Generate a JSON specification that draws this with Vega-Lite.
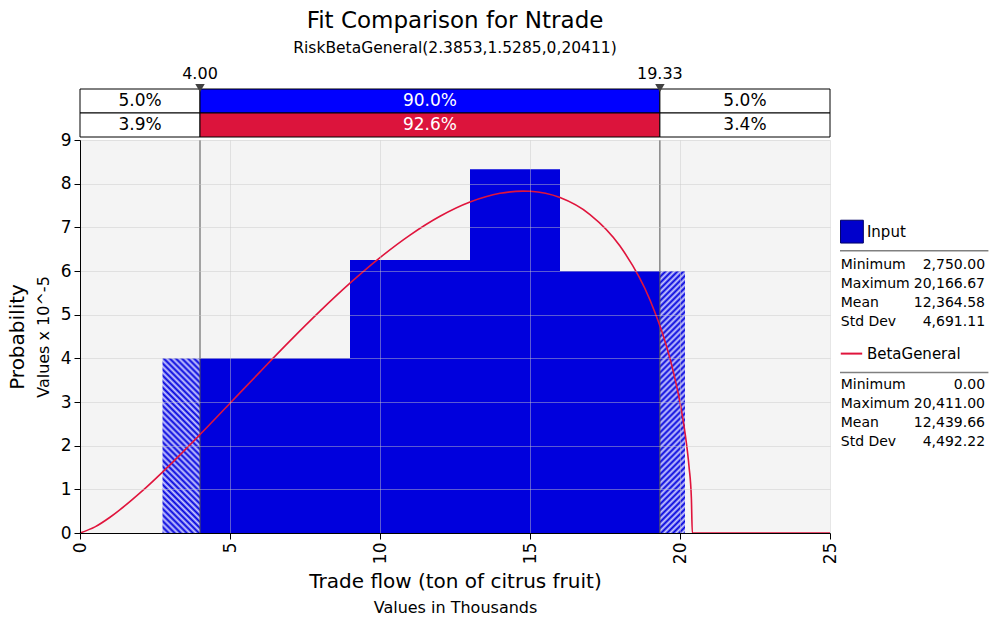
{
  "$schema": "https://vega.github.io/schema/vega-lite/v6.json",
  "padding": {"left": 7, "top": 9, "right": 0, "bottom": 0},
  "background": "white",
  "config": {
    "font": "DejaVu Sans",
    "view": {"stroke": null},
    "axis": {"labelColor": "black", "titleColor": "black", "domainColor": "black", "tickColor": "black", "titleFontWeight": "normal", "labelFont": "DejaVu Sans", "titleFont": "DejaVu Sans"},
    "title": {"font": "DejaVu Sans", "subtitleFont": "DejaVu Sans"}
  },
  "datasets": {
    "bands": [
      {"row": "Input", "lo": 0, "hi": 4, "mid": 2, "kind": "tail", "label": "5.0%"},
      {"row": "Input", "lo": 4, "hi": 19.33, "mid": 11.665, "kind": "input", "label": "90.0%"},
      {"row": "Input", "lo": 19.33, "hi": 25, "mid": 22.165, "kind": "tail", "label": "5.0%"},
      {"row": "Fit", "lo": 0, "hi": 4, "mid": 2, "kind": "tail", "label": "3.9%"},
      {"row": "Fit", "lo": 4, "hi": 19.33, "mid": 11.665, "kind": "fit", "label": "92.6%"},
      {"row": "Fit", "lo": 19.33, "hi": 25, "mid": 22.165, "kind": "tail", "label": "3.4%"}
    ],
    "markers": [{"v": 4, "label": "4.00"}, {"v": 19.33, "label": "19.33"}],
    "hist": [
      {"lo": 2.75, "hi": 4.0, "h": 4.0, "kind": "tailL"},
      {"lo": 4.0, "hi": 9.0, "h": 4.0, "kind": "body"},
      {"lo": 9.0, "hi": 13.0, "h": 6.25, "kind": "body"},
      {"lo": 13.0, "hi": 16.0, "h": 8.333, "kind": "body"},
      {"lo": 16.0, "hi": 19.33, "h": 6.0, "kind": "body"},
      {"lo": 19.33, "hi": 20.1667, "h": 6.0, "kind": "tailR"}
    ],
    "curve": [
      {"x": 0, "y": 0}, {"x": 0.5, "y": 0.1402}, {"x": 1, "y": 0.361}, {"x": 1.5, "y": 0.6245},
      {"x": 2, "y": 0.9167}, {"x": 3, "y": 1.5613}, {"x": 4, "y": 2.2543}, {"x": 5, "y": 2.9707},
      {"x": 6, "y": 3.6904}, {"x": 7, "y": 4.3988}, {"x": 8, "y": 5.0803}, {"x": 9, "y": 5.7205},
      {"x": 10, "y": 6.3065}, {"x": 11, "y": 6.8224}, {"x": 12, "y": 7.2529}, {"x": 13, "y": 7.579},
      {"x": 14, "y": 7.7793}, {"x": 14.77, "y": 7.83}, {"x": 15, "y": 7.8258}, {"x": 16, "y": 7.6817},
      {"x": 17, "y": 7.293}, {"x": 18, "y": 6.5716}, {"x": 19, "y": 5.3362}, {"x": 19.5, "y": 4.3898},
      {"x": 19.75, "y": 3.7707}, {"x": 20, "y": 2.9856}, {"x": 20.1, "y": 2.594}, {"x": 20.2, "y": 2.1283},
      {"x": 20.3, "y": 1.5259}, {"x": 20.38, "y": 0.7819}, {"x": 20.411, "y": 0}, {"x": 25, "y": 0}
    ],
    "stathead": [
      {"name": "Input", "line": 0, "sym": "box"},
      {"name": "BetaGeneral", "line": 6.42, "sym": "line"}
    ],
    "statrows": [
      {"stat": "Minimum", "value": "2,750.00", "line": 1.74},
      {"stat": "Maximum", "value": "20,166.67", "line": 2.74},
      {"stat": "Mean", "value": "12,364.58", "line": 3.74},
      {"stat": "Std Dev", "value": "4,691.11", "line": 4.74},
      {"stat": "Minimum", "value": "0.00", "line": 8.05},
      {"stat": "Maximum", "value": "20,411.00", "line": 9.05},
      {"stat": "Mean", "value": "12,439.66", "line": 10.05},
      {"stat": "Std Dev", "value": "4,492.22", "line": 11.05}
    ]
  },
  "hconcat": [
    {
      "spacing": 3,
      "bounds": "flush",
      "vconcat": [
        {
          "width": 750,
          "height": 72,
          "title": {"text": "Fit Comparison for Ntrade", "subtitle": "RiskBetaGeneral(2.3853,1.5285,0,20411)", "fontSize": 23, "fontWeight": "normal", "color": "black", "subtitleFontSize": 15.5, "subtitleColor": "black", "anchor": "middle", "frame": "group", "offset": 9, "subtitlePadding": 8},
          "layer": [
            {
              "data": {"name": "bands"},
              "mark": {"type": "rect", "stroke": "black", "strokeWidth": 1},
              "encoding": {
                "x": {"field": "lo", "type": "quantitative", "scale": {"domain": [0, 25], "nice": false}, "axis": null},
                "x2": {"field": "hi"},
                "y": {"field": "row", "type": "nominal", "scale": {"domain": ["marker", "Input", "Fit"], "paddingInner": 0, "paddingOuter": 0}, "axis": null},
                "fill": {"field": "kind", "type": "nominal", "scale": {"domain": ["tail", "input", "fit"], "range": ["#FFFFFF", "#0000FF", "#DC143C"]}, "legend": null}
              }
            },
            {
              "data": {"name": "bands"},
              "mark": {"type": "text", "fontSize": 17},
              "encoding": {
                "x": {"field": "mid", "type": "quantitative"},
                "y": {"field": "row", "type": "nominal"},
                "text": {"field": "label"},
                "color": {"field": "kind", "type": "nominal", "scale": {"domain": ["tail", "input", "fit"], "range": ["#000000", "#FFFFFF", "#FFFFFF"]}, "legend": null}
              }
            },
            {
              "data": {"name": "markers"},
              "mark": {"type": "point", "shape": "triangle-down", "filled": true, "size": 90, "color": "#404040", "opacity": 1, "yOffset": 11},
              "encoding": {
                "x": {"field": "v", "type": "quantitative"},
                "y": {"datum": "marker", "type": "nominal"}
              }
            },
            {
              "data": {"name": "markers"},
              "mark": {"type": "text", "fontSize": 16, "color": "black", "yOffset": -3},
              "encoding": {
                "x": {"field": "v", "type": "quantitative"},
                "y": {"datum": "marker", "type": "nominal"},
                "text": {"field": "label"}
              }
            }
          ]
        },
        {
          "width": 750,
          "height": 393,
          "view": {"fill": "#F4F4F4", "stroke": null},
          "layer": [
            {
              "data": {"name": "hist"},
              "transform": [{"filter": "datum.kind === 'body'"}],
              "mark": {"type": "rect", "fill": "#0000DD"},
              "encoding": {
                "x": {"field": "lo", "type": "quantitative", "scale": {"domain": [0, 25], "nice": false},
                  "axis": {"title": "Trade flow (ton of citrus fruit)", "titleFontSize": 20, "values": [0, 5, 10, 15, 20, 25], "labelAngle": -90, "labelFontSize": 17, "tickSize": 6, "grid": true, "gridColor": "#C8C8C8", "gridOpacity": 0.45, "zindex": 1, "titlePadding": 8, "labelPadding": 3}},
                "x2": {"field": "hi"},
                "y": {"field": "h", "type": "quantitative", "scale": {"domain": [0, 9], "nice": false},
                  "axis": {"title": "Values x 10^-5", "titleFontSize": 16, "values": [0, 1, 2, 3, 4, 5, 6, 7, 8, 9], "labelFontSize": 17, "tickSize": 6, "grid": true, "gridColor": "#C8C8C8", "gridOpacity": 0.45, "zindex": 1, "titlePadding": 9, "labelPadding": 3}},
                "y2": {"datum": 0}
              }
            },
            {
              "data": {"name": "hist"},
              "transform": [{"filter": "datum.kind === 'tailL'"}],
              "mark": {"type": "rect", "fill": {"gradient": "linear", "x1": 0, "y1": 1, "x2": 0.2493, "y2": -0.1612, "stops": [
                {"offset": 0, "color": "#00d"}, {"offset": 0.0143, "color": "#ccf"}, {"offset": 0.0286, "color": "#00d"}, {"offset": 0.0429, "color": "#ccf"},
                {"offset": 0.0571, "color": "#00d"}, {"offset": 0.0714, "color": "#ccf"}, {"offset": 0.0857, "color": "#00d"}, {"offset": 0.1, "color": "#ccf"},
                {"offset": 0.1143, "color": "#00d"}, {"offset": 0.1286, "color": "#ccf"}, {"offset": 0.1429, "color": "#00d"}, {"offset": 0.1571, "color": "#ccf"},
                {"offset": 0.1714, "color": "#00d"}, {"offset": 0.1857, "color": "#ccf"}, {"offset": 0.2, "color": "#00d"}, {"offset": 0.2143, "color": "#ccf"},
                {"offset": 0.2286, "color": "#00d"}, {"offset": 0.2429, "color": "#ccf"}, {"offset": 0.2571, "color": "#00d"}, {"offset": 0.2714, "color": "#ccf"},
                {"offset": 0.2857, "color": "#00d"}, {"offset": 0.3, "color": "#ccf"}, {"offset": 0.3143, "color": "#00d"}, {"offset": 0.3286, "color": "#ccf"},
                {"offset": 0.3429, "color": "#00d"}, {"offset": 0.3571, "color": "#ccf"}, {"offset": 0.3714, "color": "#00d"}, {"offset": 0.3857, "color": "#ccf"},
                {"offset": 0.4, "color": "#00d"}, {"offset": 0.4143, "color": "#ccf"}, {"offset": 0.4286, "color": "#00d"}, {"offset": 0.4429, "color": "#ccf"},
                {"offset": 0.4571, "color": "#00d"}, {"offset": 0.4714, "color": "#ccf"}, {"offset": 0.4857, "color": "#00d"}, {"offset": 0.5, "color": "#ccf"},
                {"offset": 0.5143, "color": "#00d"}, {"offset": 0.5286, "color": "#ccf"}, {"offset": 0.5429, "color": "#00d"}, {"offset": 0.5571, "color": "#ccf"},
                {"offset": 0.5714, "color": "#00d"}, {"offset": 0.5857, "color": "#ccf"}, {"offset": 0.6, "color": "#00d"}, {"offset": 0.6143, "color": "#ccf"},
                {"offset": 0.6286, "color": "#00d"}, {"offset": 0.6429, "color": "#ccf"}, {"offset": 0.6571, "color": "#00d"}, {"offset": 0.6714, "color": "#ccf"},
                {"offset": 0.6857, "color": "#00d"}, {"offset": 0.7, "color": "#ccf"}, {"offset": 0.7143, "color": "#00d"}, {"offset": 0.7286, "color": "#ccf"},
                {"offset": 0.7429, "color": "#00d"}, {"offset": 0.7571, "color": "#ccf"}, {"offset": 0.7714, "color": "#00d"}, {"offset": 0.7857, "color": "#ccf"},
                {"offset": 0.8, "color": "#00d"}, {"offset": 0.8143, "color": "#ccf"}, {"offset": 0.8286, "color": "#00d"}, {"offset": 0.8429, "color": "#ccf"},
                {"offset": 0.8571, "color": "#00d"}, {"offset": 0.8714, "color": "#ccf"}, {"offset": 0.8857, "color": "#00d"}, {"offset": 0.9, "color": "#ccf"},
                {"offset": 0.9143, "color": "#00d"}, {"offset": 0.9286, "color": "#ccf"}, {"offset": 0.9429, "color": "#00d"}, {"offset": 0.9571, "color": "#ccf"},
                {"offset": 0.9714, "color": "#00d"}, {"offset": 0.9857, "color": "#ccf"}, {"offset": 1, "color": "#00d"}
              ]}},
              "encoding": {
                "x": {"field": "lo", "type": "quantitative", "axis": null},
                "x2": {"field": "hi"},
                "y": {"field": "h", "type": "quantitative", "axis": null},
                "y2": {"datum": 0}
              }
            },
            {
              "data": {"name": "hist"},
              "transform": [{"filter": "datum.kind === 'tailR'"}],
              "mark": {"type": "rect", "fill": {"gradient": "linear", "x1": 0, "y1": 0, "x2": 0.104, "y2": 1.086, "stops": [
                {"offset": 0, "color": "#00d"}, {"offset": 0.0104, "color": "#ccf"}, {"offset": 0.0208, "color": "#00d"}, {"offset": 0.0313, "color": "#ccf"},
                {"offset": 0.0417, "color": "#00d"}, {"offset": 0.0521, "color": "#ccf"}, {"offset": 0.0625, "color": "#00d"}, {"offset": 0.0729, "color": "#ccf"},
                {"offset": 0.0833, "color": "#00d"}, {"offset": 0.0938, "color": "#ccf"}, {"offset": 0.1042, "color": "#00d"}, {"offset": 0.1146, "color": "#ccf"},
                {"offset": 0.125, "color": "#00d"}, {"offset": 0.1354, "color": "#ccf"}, {"offset": 0.1458, "color": "#00d"}, {"offset": 0.1563, "color": "#ccf"},
                {"offset": 0.1667, "color": "#00d"}, {"offset": 0.1771, "color": "#ccf"}, {"offset": 0.1875, "color": "#00d"}, {"offset": 0.1979, "color": "#ccf"},
                {"offset": 0.2083, "color": "#00d"}, {"offset": 0.2188, "color": "#ccf"}, {"offset": 0.2292, "color": "#00d"}, {"offset": 0.2396, "color": "#ccf"},
                {"offset": 0.25, "color": "#00d"}, {"offset": 0.2604, "color": "#ccf"}, {"offset": 0.2708, "color": "#00d"}, {"offset": 0.2813, "color": "#ccf"},
                {"offset": 0.2917, "color": "#00d"}, {"offset": 0.3021, "color": "#ccf"}, {"offset": 0.3125, "color": "#00d"}, {"offset": 0.3229, "color": "#ccf"},
                {"offset": 0.3333, "color": "#00d"}, {"offset": 0.3438, "color": "#ccf"}, {"offset": 0.3542, "color": "#00d"}, {"offset": 0.3646, "color": "#ccf"},
                {"offset": 0.375, "color": "#00d"}, {"offset": 0.3854, "color": "#ccf"}, {"offset": 0.3958, "color": "#00d"}, {"offset": 0.4063, "color": "#ccf"},
                {"offset": 0.4167, "color": "#00d"}, {"offset": 0.4271, "color": "#ccf"}, {"offset": 0.4375, "color": "#00d"}, {"offset": 0.4479, "color": "#ccf"},
                {"offset": 0.4583, "color": "#00d"}, {"offset": 0.4688, "color": "#ccf"}, {"offset": 0.4792, "color": "#00d"}, {"offset": 0.4896, "color": "#ccf"},
                {"offset": 0.5, "color": "#00d"}, {"offset": 0.5104, "color": "#ccf"}, {"offset": 0.5208, "color": "#00d"}, {"offset": 0.5313, "color": "#ccf"},
                {"offset": 0.5417, "color": "#00d"}, {"offset": 0.5521, "color": "#ccf"}, {"offset": 0.5625, "color": "#00d"}, {"offset": 0.5729, "color": "#ccf"},
                {"offset": 0.5833, "color": "#00d"}, {"offset": 0.5938, "color": "#ccf"}, {"offset": 0.6042, "color": "#00d"}, {"offset": 0.6146, "color": "#ccf"},
                {"offset": 0.625, "color": "#00d"}, {"offset": 0.6354, "color": "#ccf"}, {"offset": 0.6458, "color": "#00d"}, {"offset": 0.6563, "color": "#ccf"},
                {"offset": 0.6667, "color": "#00d"}, {"offset": 0.6771, "color": "#ccf"}, {"offset": 0.6875, "color": "#00d"}, {"offset": 0.6979, "color": "#ccf"},
                {"offset": 0.7083, "color": "#00d"}, {"offset": 0.7188, "color": "#ccf"}, {"offset": 0.7292, "color": "#00d"}, {"offset": 0.7396, "color": "#ccf"},
                {"offset": 0.75, "color": "#00d"}, {"offset": 0.7604, "color": "#ccf"}, {"offset": 0.7708, "color": "#00d"}, {"offset": 0.7813, "color": "#ccf"},
                {"offset": 0.7917, "color": "#00d"}, {"offset": 0.8021, "color": "#ccf"}, {"offset": 0.8125, "color": "#00d"}, {"offset": 0.8229, "color": "#ccf"},
                {"offset": 0.8333, "color": "#00d"}, {"offset": 0.8438, "color": "#ccf"}, {"offset": 0.8542, "color": "#00d"}, {"offset": 0.8646, "color": "#ccf"},
                {"offset": 0.875, "color": "#00d"}, {"offset": 0.8854, "color": "#ccf"}, {"offset": 0.8958, "color": "#00d"}, {"offset": 0.9063, "color": "#ccf"},
                {"offset": 0.9167, "color": "#00d"}, {"offset": 0.9271, "color": "#ccf"}, {"offset": 0.9375, "color": "#00d"}, {"offset": 0.9479, "color": "#ccf"},
                {"offset": 0.9583, "color": "#00d"}, {"offset": 0.9688, "color": "#ccf"}, {"offset": 0.9792, "color": "#00d"}, {"offset": 0.9896, "color": "#ccf"},
                {"offset": 1, "color": "#00d"}
              ]}},
              "encoding": {
                "x": {"field": "lo", "type": "quantitative", "axis": null},
                "x2": {"field": "hi"},
                "y": {"field": "h", "type": "quantitative", "axis": null},
                "y2": {"datum": 0}
              }
            },
            {
              "data": {"name": "markers"},
              "mark": {"type": "rule", "color": "#505050", "strokeWidth": 1},
              "encoding": {
                "x": {"field": "v", "type": "quantitative", "axis": null}
              }
            },
            {
              "data": {"name": "curve"},
              "mark": {"type": "line", "color": "#E0143C", "strokeWidth": 1.6, "interpolate": "monotone"},
              "encoding": {
                "x": {"field": "x", "type": "quantitative", "axis": {"orient": "bottom", "offset": 64, "title": "Values in Thousands", "titleFontSize": 16, "labels": false, "ticks": false, "domain": false, "grid": false, "titlePadding": 2}},
                "y": {"field": "y", "type": "quantitative", "axis": {"orient": "left", "offset": 51, "title": "Probability", "titleFontSize": 20, "labels": false, "ticks": false, "domain": false, "grid": false, "titlePadding": 2}}
              }
            }
          ],
          "resolve": {"axis": {"x": "independent", "y": "independent"}}
        }
      ]
    },
    {
      "width": 153,
      "height": 456,
      "layer": [
        {
          "data": {"name": "stathead"},
          "mark": {"type": "rule", "color": "#808080", "strokeWidth": 1.5, "yOffset": 19},
          "encoding": {
            "x": {"datum": 0, "type": "quantitative", "scale": {"domain": [0, 1], "nice": false, "zero": false}, "axis": null},
            "x2": {"datum": 0.97},
            "y": {"field": "line", "type": "quantitative", "scale": {"domain": [-8.77, 15.23], "nice": false, "zero": false, "reverse": true}, "axis": null}
          }
        },
        {
          "data": {"name": "stathead"},
          "transform": [{"filter": "datum.sym === 'box'"}],
          "mark": {"type": "point", "shape": "square", "filled": true, "size": 520, "fill": "#0000CC", "stroke": "#000066", "strokeWidth": 1, "opacity": 1},
          "encoding": {
            "x": {"datum": 0.078, "type": "quantitative"},
            "y": {"field": "line", "type": "quantitative"}
          }
        },
        {
          "data": {"name": "stathead"},
          "transform": [{"filter": "datum.sym === 'line'"}],
          "mark": {"type": "rule", "color": "#E0143C", "strokeWidth": 2},
          "encoding": {
            "x": {"datum": 0.005, "type": "quantitative"},
            "x2": {"datum": 0.145},
            "y": {"field": "line", "type": "quantitative"}
          }
        },
        {
          "data": {"name": "stathead"},
          "mark": {"type": "text", "align": "left", "baseline": "middle", "fontSize": 15, "color": "black"},
          "encoding": {
            "x": {"datum": 0.176, "type": "quantitative"},
            "y": {"field": "line", "type": "quantitative"},
            "text": {"field": "name"}
          }
        },
        {
          "data": {"name": "statrows"},
          "mark": {"type": "text", "align": "left", "baseline": "middle", "fontSize": 14, "color": "black"},
          "encoding": {
            "x": {"datum": 0.005, "type": "quantitative"},
            "y": {"field": "line", "type": "quantitative"},
            "text": {"field": "stat"}
          }
        },
        {
          "data": {"name": "statrows"},
          "mark": {"type": "text", "align": "right", "baseline": "middle", "fontSize": 14, "color": "black"},
          "encoding": {
            "x": {"datum": 0.948, "type": "quantitative"},
            "y": {"field": "line", "type": "quantitative"},
            "text": {"field": "value"}
          }
        }
      ]
    }
  ],
  "spacing": 0
}
